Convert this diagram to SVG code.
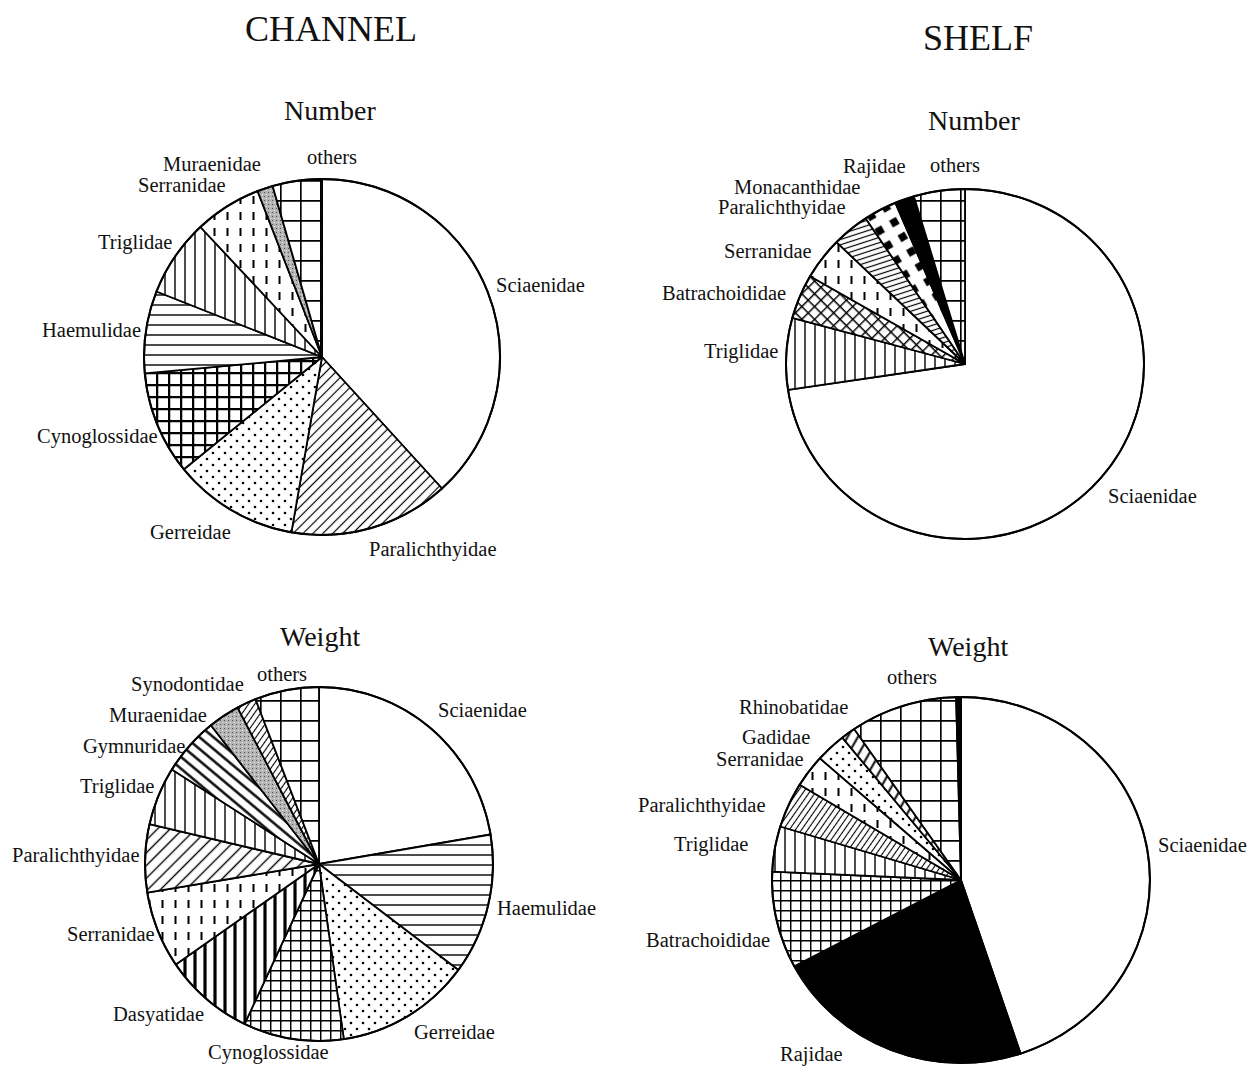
<svg xmlns="http://www.w3.org/2000/svg" width="1247" height="1066" viewBox="0 0 1247 1066">
<style>
  .t { font-family: "Liberation Serif", "Times New Roman", serif; fill: #111; }
  .lb { font-size: 20.5px; }
  .ti { font-size: 28px; }
  .hd { font-size: 36px; }
  .sl { stroke: #000; stroke-width: 1.8; stroke-linejoin: round; }
  .rim { fill: none; stroke: #000; stroke-width: 2; }
</style>
<defs>
  <pattern id="grid" width="20" height="20" patternUnits="userSpaceOnUse">
    <rect width="20" height="20" fill="#fff"/>
    <path d="M0,0.8H20M0.8,0V20" stroke="#000" stroke-width="1.7"/>
  </pattern>
  <pattern id="gridBold" width="12" height="12" patternUnits="userSpaceOnUse">
    <rect width="12" height="12" fill="#fff"/>
    <path d="M0,1.1H12M1.1,0V12" stroke="#000" stroke-width="2.3"/>
  </pattern>
  <pattern id="gridSmall" width="10" height="10" patternUnits="userSpaceOnUse">
    <rect width="10" height="10" fill="#fff"/>
    <path d="M0,0.7H10M0.7,0V10" stroke="#000" stroke-width="1.5"/>
  </pattern>
  <pattern id="vert" width="10" height="10" patternUnits="userSpaceOnUse">
    <rect width="10" height="10" fill="#fff"/>
    <path d="M5,0V10" stroke="#000" stroke-width="1.4"/>
  </pattern>
  <pattern id="vertThick" width="10" height="10" patternUnits="userSpaceOnUse">
    <rect width="10" height="10" fill="#fff"/>
    <path d="M5,0V10" stroke="#000" stroke-width="3.2"/>
  </pattern>
  <pattern id="horiz" width="10" height="10" patternUnits="userSpaceOnUse">
    <rect width="10" height="10" fill="#fff"/>
    <path d="M0,5H10" stroke="#000" stroke-width="1.4"/>
  </pattern>
  <pattern id="diag" width="7" height="7" patternUnits="userSpaceOnUse" patternTransform="rotate(45)">
    <rect width="7" height="7" fill="#fff"/>
    <path d="M3.5,0V7" stroke="#000" stroke-width="1.2"/>
  </pattern>
  <pattern id="diagWide" width="9" height="9" patternUnits="userSpaceOnUse" patternTransform="rotate(45)">
    <rect width="9" height="9" fill="#fff"/>
    <path d="M4.5,0V9" stroke="#000" stroke-width="1.4"/>
  </pattern>
  <pattern id="diagFine" width="5" height="5" patternUnits="userSpaceOnUse" patternTransform="rotate(35)">
    <rect width="5" height="5" fill="#fff"/>
    <path d="M2.5,0V5" stroke="#000" stroke-width="1.1"/>
  </pattern>
  <pattern id="diagBack" width="9" height="9" patternUnits="userSpaceOnUse" patternTransform="rotate(-50)">
    <rect width="9" height="9" fill="#fff"/>
    <path d="M4.5,0V9" stroke="#000" stroke-width="2.4"/>
  </pattern>
  <pattern id="diagBold" width="9" height="9" patternUnits="userSpaceOnUse" patternTransform="rotate(30)">
    <rect width="9" height="9" fill="#fff"/>
    <path d="M4.5,0V9" stroke="#000" stroke-width="2"/>
  </pattern>
  <pattern id="hfine" width="6" height="5" patternUnits="userSpaceOnUse" patternTransform="rotate(-18)">
    <rect width="6" height="5" fill="#fff"/>
    <path d="M0,2.5H6" stroke="#000" stroke-width="1.2"/>
  </pattern>
  <pattern id="xhatch" width="9" height="9" patternUnits="userSpaceOnUse" patternTransform="rotate(45)">
    <rect width="9" height="9" fill="#fff"/>
    <path d="M0,0.7H9M0.7,0V9" stroke="#000" stroke-width="1.5"/>
  </pattern>
  <pattern id="dots" width="12" height="12" patternUnits="userSpaceOnUse">
    <rect width="12" height="12" fill="#fff"/>
    <circle cx="3" cy="3" r="1.3" fill="#000"/>
    <circle cx="9" cy="9" r="1.3" fill="#000"/>
  </pattern>
  <pattern id="dash" width="13" height="16" patternUnits="userSpaceOnUse">
    <rect width="13" height="16" fill="#fff"/>
    <path d="M6.5,4V12" stroke="#000" stroke-width="2"/>
  </pattern>
  <pattern id="gray" width="4" height="4" patternUnits="userSpaceOnUse">
    <rect width="4" height="4" fill="#b4b4b4"/>
    <rect x="0" y="0" width="1" height="1" fill="#555"/>
    <rect x="2" y="2" width="1" height="1" fill="#eee"/>
  </pattern>
  <pattern id="diamond" width="24" height="24" patternUnits="userSpaceOnUse" patternTransform="translate(3,2) rotate(15)">
    <rect width="24" height="24" fill="#fff"/>
    <path d="M6,0.5L11.5,6L6,11.5L0.5,6Z" fill="#000"/>
    <path d="M18,12.5L23.5,18L18,23.5L12.5,18Z" fill="#000"/>
  </pattern>
</defs>

<g id="titles">
  <text class="t hd" x="245" y="41">CHANNEL</text>
  <text class="t hd" x="923" y="50">SHELF</text>
</g>

<g id="pie-channel-number">
  <text class="t ti" x="284" y="120">Number</text>
  <g id="cn-sciaenidae"><path class="sl" fill="#fff" d="M322,357L322,179A178,178 0 0,1 442.0,488.5Z"/><text class="t lb" x="496" y="292">Sciaenidae</text></g>
  <g id="cn-paralichthyidae"><path class="sl" fill="url(#diag)" d="M322,357L442.0,488.5A178,178 0 0,1 291.4,532.3Z"/><text class="t lb" x="369" y="556">Paralichthyidae</text></g>
  <g id="cn-gerreidae"><path class="sl" fill="url(#dots)" d="M322,357L291.4,532.3A178,178 0 0,1 183.9,469.3Z"/><text class="t lb" x="150" y="539">Gerreidae</text></g>
  <g id="cn-cynoglossidae"><path class="sl" fill="url(#gridBold)" d="M322,357L183.9,469.3A178,178 0 0,1 144.8,373.4Z"/><text class="t lb" x="37" y="443">Cynoglossidae</text></g>
  <g id="cn-haemulidae"><path class="sl" fill="url(#horiz)" d="M322,357L144.8,373.4A178,178 0 0,1 156.5,291.5Z"/><text class="t lb" x="42" y="337">Haemulidae</text></g>
  <g id="cn-triglidae"><path class="sl" fill="url(#vert)" d="M322,357L156.5,291.5A178,178 0 0,1 200.4,227.0Z"/><text class="t lb" x="98" y="249">Triglidae</text></g>
  <g id="cn-serranidae"><path class="sl" fill="url(#dash)" d="M322,357L200.4,227.0A178,178 0 0,1 257.6,191.1Z"/><text class="t lb" x="138" y="192">Serranidae</text></g>
  <g id="cn-muraenidae"><path class="sl" fill="url(#gray)" d="M322,357L257.6,191.1A178,178 0 0,1 272.6,186.0Z"/><text class="t lb" x="163" y="171">Muraenidae</text></g>
  <g id="cn-others"><path class="sl" fill="url(#grid)" d="M322,357L272.6,186.0A178,178 0 0,1 322,179Z"/><text class="t lb" x="307" y="164">others</text></g>
  <circle class="rim" cx="322" cy="357" r="178"/>
</g>

<g id="pie-shelf-number">
  <text class="t ti" x="928" y="130">Number</text>
  <g id="sn-sciaenidae"><path class="sl" fill="#fff" d="M965,364L965,189A179,175 0 1,1 788.0,389.9Z"/><text class="t lb" x="1108" y="503">Sciaenidae</text></g>
  <g id="sn-triglidae"><path class="sl" fill="url(#vert)" d="M965,364L788.0,389.9A179,175 0 0,1 792.3,317.8Z"/><text class="t lb" x="704" y="358">Triglidae</text></g>
  <g id="sn-batrachoididae"><path class="sl" fill="url(#xhatch)" d="M965,364L792.3,317.8A179,175 0 0,1 810.1,276.2Z"/><text class="t lb" x="662" y="300">Batrachoididae</text></g>
  <g id="sn-serranidae"><path class="sl" fill="url(#dash)" d="M965,364L810.1,276.2A179,175 0 0,1 836.5,242.2Z"/><text class="t lb" x="724" y="258">Serranidae</text></g>
  <g id="sn-paralichthyidae"><path class="sl" fill="url(#hfine)" d="M965,364L836.5,242.2A179,175 0 0,1 865.7,218.4Z"/><text class="t lb" x="718" y="214">Paralichthyidae</text></g>
  <g id="sn-monacanthidae"><path class="sl" fill="url(#diamond)" d="M965,364L865.7,218.4A179,175 0 0,1 895.4,202.8Z"/><text class="t lb" x="734" y="194">Monacanthidae</text></g>
  <g id="sn-rajidae"><path class="sl" fill="#000" d="M965,364L895.4,202.8A179,175 0 0,1 913.9,196.3Z"/><text class="t lb" x="843" y="173">Rajidae</text></g>
  <g id="sn-others"><path class="sl" fill="url(#grid)" d="M965,364L913.9,196.3A179,175 0 0,1 965,189Z"/><text class="t lb" x="930" y="172">others</text></g>
  <ellipse class="rim" cx="965" cy="364" rx="179" ry="175"/>
</g>

<g id="pie-channel-weight">
  <text class="t ti" x="280" y="646">Weight</text>
  <g id="cw-sciaenidae"><path class="sl" fill="#fff" d="M319,864L319,687A174,177 0 0,1 490.6,834.5Z"/><text class="t lb" x="438" y="717">Sciaenidae</text></g>
  <g id="cw-haemulidae"><path class="sl" fill="url(#horiz)" d="M319,864L490.6,834.5A174,177 0 0,1 458.3,970.0Z"/><text class="t lb" x="497" y="915">Haemulidae</text></g>
  <g id="cw-gerreidae"><path class="sl" fill="url(#dots)" d="M319,864L458.3,970.0A174,177 0 0,1 343.8,1039.2Z"/><text class="t lb" x="414" y="1039">Gerreidae</text></g>
  <g id="cw-cynoglossidae"><path class="sl" fill="url(#gridSmall)" d="M319,864L343.8,1039.2A174,177 0 0,1 244.6,1024.0Z"/><text class="t lb" x="208" y="1059">Cynoglossidae</text></g>
  <g id="cw-dasyatidae"><path class="sl" fill="url(#vertThick)" d="M319,864L244.6,1024.0A174,177 0 0,1 175.8,964.5Z"/><text class="t lb" x="113" y="1021">Dasyatidae</text></g>
  <g id="cw-serranidae"><path class="sl" fill="url(#dash)" d="M319,864L175.8,964.5A174,177 0 0,1 147.3,892.6Z"/><text class="t lb" x="67" y="941">Serranidae</text></g>
  <g id="cw-paralichthyidae"><path class="sl" fill="url(#diagWide)" d="M319,864L147.3,892.6A174,177 0 0,1 149.5,824.2Z"/><text class="t lb" x="12" y="862">Paralichthyidae</text></g>
  <g id="cw-triglidae"><path class="sl" fill="url(#vert)" d="M319,864L149.5,824.2A174,177 0 0,1 171.9,769.4Z"/><text class="t lb" x="80" y="793">Triglidae</text></g>
  <g id="cw-gymnuridae"><path class="sl" fill="url(#diagBack)" d="M319,864L171.9,769.4A174,177 0 0,1 210.9,725.3Z"/><text class="t lb" x="83" y="753">Gymnuridae</text></g>
  <g id="cw-muraenidae"><path class="sl" fill="url(#gray)" d="M319,864L210.9,725.3A174,177 0 0,1 237.6,707.6Z"/><text class="t lb" x="109" y="722">Muraenidae</text></g>
  <g id="cw-synodontidae"><path class="sl" fill="url(#diagFine)" d="M319,864L237.6,707.6A174,177 0 0,1 255.5,699.2Z"/><text class="t lb" x="131" y="691">Synodontidae</text></g>
  <g id="cw-others"><path class="sl" fill="url(#grid)" d="M319,864L255.5,699.2A174,177 0 0,1 319,687Z"/><text class="t lb" x="257" y="681">others</text></g>
  <ellipse class="rim" cx="319" cy="864" rx="174" ry="177"/>
</g>

<g id="pie-shelf-weight">
  <text class="t ti" x="928" y="656">Weight</text>
  <g id="sw-sciaenidae"><path class="sl" fill="#fff" d="M961,880L961,697A189,183 0 0,1 1020.6,1053.6Z"/><text class="t lb" x="1158" y="852">Sciaenidae</text></g>
  <g id="sw-rajidae"><path class="sl" fill="#000" d="M961,880L1020.6,1053.6A189,183 0 0,1 794.3,966.2Z"/><text class="t lb" x="780" y="1061">Rajidae</text></g>
  <g id="sw-batrachoididae"><path class="sl" fill="url(#gridSmall)" d="M961,880L794.3,966.2A189,183 0 0,1 772.2,871.7Z"/><text class="t lb" x="646" y="947">Batrachoididae</text></g>
  <g id="sw-triglidae"><path class="sl" fill="url(#vert)" d="M961,880L772.2,871.7A189,183 0 0,1 780.3,826.5Z"/><text class="t lb" x="674" y="851">Triglidae</text></g>
  <g id="sw-paralichthyidae"><path class="sl" fill="url(#diagFine)" d="M961,880L780.3,826.5A189,183 0 0,1 799.7,784.7Z"/><text class="t lb" x="638" y="812">Paralichthyidae</text></g>
  <g id="sw-serranidae"><path class="sl" fill="url(#dash)" d="M961,880L799.7,784.7A189,183 0 0,1 819.9,758.3Z"/><text class="t lb" x="716" y="766">Serranidae</text></g>
  <g id="sw-gadidae"><path class="sl" fill="url(#dots)" d="M961,880L819.9,758.3A189,183 0 0,1 842.3,737.6Z"/><text class="t lb" x="742" y="744">Gadidae</text></g>
  <g id="sw-rhinobatidae"><path class="sl" fill="url(#diagBold)" d="M961,880L842.3,737.6A189,183 0 0,1 854.2,729.0Z"/><text class="t lb" x="739" y="714">Rhinobatidae</text></g>
  <g id="sw-others"><path class="sl" fill="url(#grid)" d="M961,880L854.2,729.0A189,183 0 0,1 956.1,697.1Z"/><text class="t lb" x="887" y="684">others</text></g>
  <g id="sw-thin"><path class="sl" fill="#000" d="M961,880L956.1,697.1A189,183 0 0,1 961,697Z"/></g>
  <ellipse class="rim" cx="961" cy="880" rx="189" ry="183"/>
</g>
</svg>
